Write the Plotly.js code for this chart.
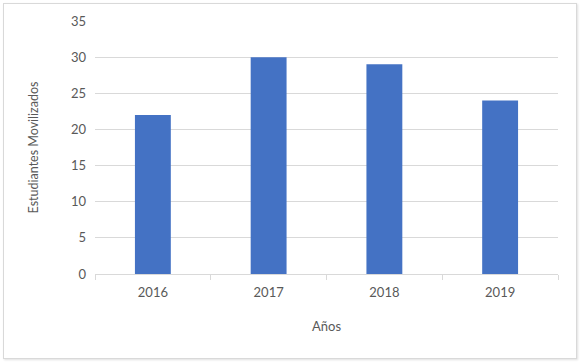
<!DOCTYPE html>
<html>
<head>
<meta charset="utf-8">
<script src="https://cdn.plot.ly/plotly-3.0.1.min.js"></script>
<style>
html,body{margin:0;padding:0;background:#fff;}
#frame{position:absolute;left:3px;top:3px;width:572px;height:354px;border:1px solid #d9d9d9;box-shadow:1px 1px 2px #e0e0e0;}
#chart{position:absolute;left:0;top:0;width:581px;height:362px;}
</style>
</head>
<body>
<div id="frame"></div>
<div id="chart"></div>
<script>
const years = ['2016', '2017', '2018', '2019'];
const students = [22, 30, 29, 24];
const yTicks = [0, 5, 10, 15, 20, 25, 30, 35];

const trace = {
  type: 'bar',
  x: years,
  y: students,
  marker: {color: '#4472C4'},
  width: 0.31,
  hoverinfo: 'x+y'
};

const fontFam = 'Lato, "Open Sans", sans-serif';
const layout = {
  width: 581,
  height: 362,
  margin: {l: 95, r: 23, t: 21, b: 88},
  paper_bgcolor: 'rgba(0,0,0,0)',
  plot_bgcolor: 'rgba(0,0,0,0)',
  showlegend: false,
  font: {family: fontFam, size: 13, color: '#595959'},
  xaxis: {
    type: 'category',
    showline: true,
    linecolor: '#d9d9d9',
    linewidth: 1,
    ticks: 'outside',
    tickson: 'boundaries',
    ticklen: 5,
    tickcolor: '#d9d9d9',
    showgrid: false,
    ticklabelstandoff: 6,
    tickfont: {size: 13, color: '#595959'},
    title: {text: 'Años', font: {size: 13, color: '#595959'}, standoff: 23}
  },
  yaxis: {
    range: [0, 35],
    tickvals: yTicks,
    showgrid: true,
    gridcolor: '#d9d9d9',
    gridwidth: 1,
    zeroline: false,
    showline: false,
    ticks: '',
    ticklabelstandoff: 8,
    tickfont: {size: 13, color: '#595959'},
    title: {text: 'Estudiantes Movilizados', font: {size: 12.5, color: '#595959'}, standoff: 29}
  }
};

Plotly.newPlot('chart', [trace], layout, {displayModeBar: false, staticPlot: true});
</script>
</body>
</html>
